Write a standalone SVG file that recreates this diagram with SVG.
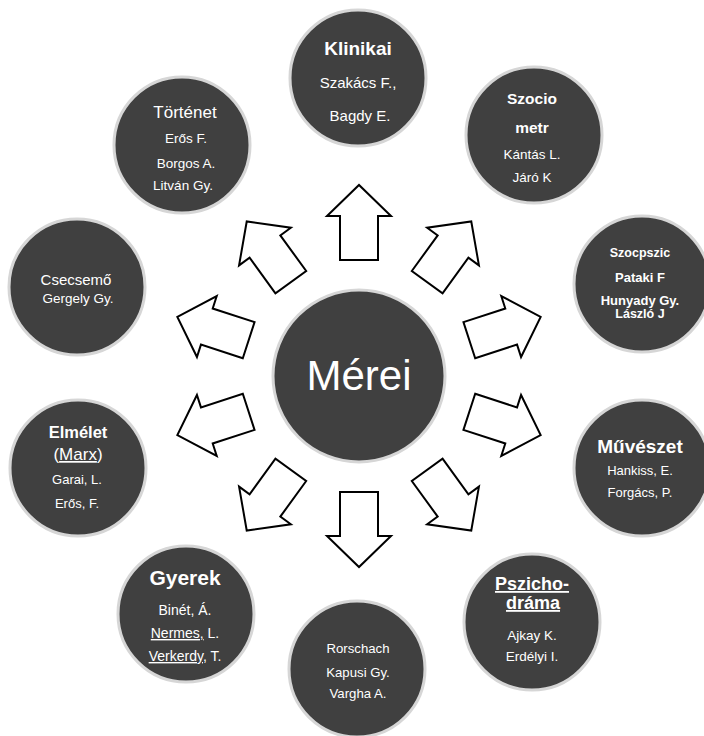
<svg xmlns="http://www.w3.org/2000/svg" width="704" height="736" viewBox="0 0 704 736">
<defs>
<style>
.c{fill:#404040;stroke:#d6d6d6;stroke-width:3}
.t{fill:#ffffff;font-family:"Liberation Sans",Arial,sans-serif;text-anchor:middle}
.b{font-weight:bold}
.u{text-decoration:underline}
.ar{fill:#ffffff;stroke:#000000;stroke-width:2;stroke-linejoin:miter}
</style>
<polygon id="arrow" points="-19,-116 -19,-160 -32,-160 0,-191 32,-160 19,-160 19,-116"/>
</defs>
<rect width="704" height="736" fill="#ffffff"/>
<g id="connectors">
<use href="#arrow" class="ar" transform="translate(359 376) rotate(0)"/>
<use href="#arrow" class="ar" transform="translate(359 376) rotate(36)"/>
<use href="#arrow" class="ar" transform="translate(359 376) rotate(72)"/>
<use href="#arrow" class="ar" transform="translate(359 376) rotate(108)"/>
<use href="#arrow" class="ar" transform="translate(359 376) rotate(144)"/>
<use href="#arrow" class="ar" transform="translate(359 376) rotate(180)"/>
<use href="#arrow" class="ar" transform="translate(359 376) rotate(216)"/>
<use href="#arrow" class="ar" transform="translate(359 376) rotate(252)"/>
<use href="#arrow" class="ar" transform="translate(359 376) rotate(288)"/>
<use href="#arrow" class="ar" transform="translate(359 376) rotate(324)"/>
</g>
<g id="merei">
<circle class="c" cx="359" cy="376" r="86"/>
<text class="t" x="359" y="390" font-size="42">Mérei</text>
</g>
<g id="klinikai">
<circle class="c" cx="358" cy="78" r="68"/>
<text class="t b" x="358" y="55" font-size="19">Klinikai</text>
<text class="t" x="358" y="88" font-size="15">Szakács F.,</text>
<text class="t" x="360" y="121" font-size="15">Bagdy E.</text>
</g>
<g id="szociometr">
<circle class="c" cx="534" cy="135" r="68"/>
<text class="t b" x="532" y="104" font-size="15.5">Szocio</text>
<text class="t b" x="532" y="133" font-size="15.5">metr</text>
<text class="t" x="532" y="159" font-size="13.5">Kántás L.</text>
<text class="t" x="532" y="182" font-size="13.5">Járó K</text>
</g>
<g id="szocpszic">
<circle class="c" cx="642" cy="284" r="68"/>
<text class="t b" x="640" y="257" font-size="12.5">Szocpszic</text>
<text class="t b" x="640" y="282" font-size="13">Pataki F</text>
<text class="t b" x="640" y="305" font-size="13">Hunyady Gy.</text>
<text class="t b" x="640" y="318" font-size="12.5">László J</text>
</g>
<g id="muveszet">
<circle class="c" cx="642" cy="468" r="68"/>
<text class="t b" x="640" y="453" font-size="19">Művészet</text>
<text class="t" x="640" y="475" font-size="13">Hankiss, E.</text>
<text class="t" x="640" y="497" font-size="13">Forgács, P.</text>
</g>
<g id="pszichodrama">
<circle class="c" cx="532" cy="622" r="68"/>
<text class="t b u" x="532" y="590" font-size="18">Pszicho-</text>
<text class="t b u" x="533" y="609" font-size="18">dráma</text>
<text class="t" x="532" y="640" font-size="13.5">Ajkay K.</text>
<text class="t" x="532" y="661" font-size="13.5">Erdélyi I.</text>
</g>
<g id="rorschach">
<circle class="c" cx="357" cy="669" r="68"/>
<text class="t" x="358" y="653" font-size="13.2">Rorschach</text>
<text class="t" x="358" y="677" font-size="13.2">Kapusi Gy.</text>
<text class="t" x="358" y="698" font-size="13.2">Vargha A.</text>
</g>
<g id="gyerek">
<circle class="c" cx="186" cy="614" r="68"/>
<text class="t b" x="185" y="585" font-size="21">Gyerek</text>
<text class="t" x="185" y="615" font-size="14">Binét, Á.</text>
<text class="t" x="185" y="638" font-size="14"><tspan class="u">Nermes,</tspan> L.</text>
<text class="t" x="185" y="661" font-size="14"><tspan class="u">Verkerdy,</tspan> T.</text>
</g>
<g id="elmelet">
<circle class="c" cx="78" cy="468" r="68"/>
<text class="t b" x="78" y="438" font-size="16.5">Elmélet</text>
<text class="t" x="78" y="460" font-size="17">(<tspan class="u">Marx</tspan>)</text>
<text class="t" x="77" y="484" font-size="13">Garai, L.</text>
<text class="t" x="77" y="508" font-size="13">Erős, F.</text>
</g>
<g id="csecsemo">
<circle class="c" cx="77" cy="287" r="68"/>
<text class="t" x="76" y="285" font-size="15">Csecsemő</text>
<text class="t" x="78" y="303" font-size="13.5">Gergely Gy.</text>
</g>
<g id="tortenet">
<circle class="c" cx="182" cy="145" r="68"/>
<text class="t" x="185" y="118" font-size="17">Történet</text>
<text class="t" x="186" y="143" font-size="13.5">Erős F.</text>
<text class="t" x="186" y="168" font-size="13.5">Borgos A.</text>
<text class="t" x="183" y="190" font-size="13.5">Litván Gy.</text>
</g>
</svg>
